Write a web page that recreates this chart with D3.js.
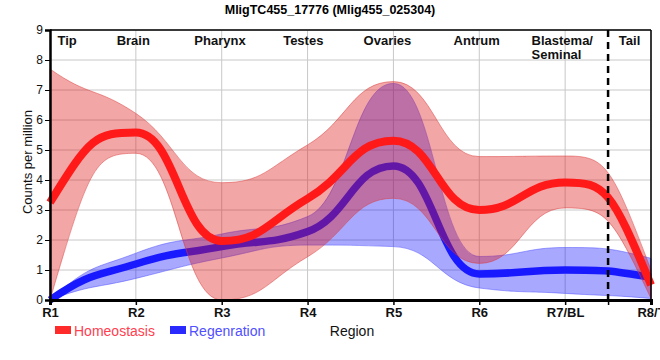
<!DOCTYPE html>
<html>
<head>
<meta charset="utf-8">
<script src="https://cdn.jsdelivr.net/npm/d3@7"></script>
<style>
  html, body { margin: 0; padding: 0; background: #fff; }
  svg { display: block; }
</style>
</head>
<body>
<svg id="chart" width="660" height="360"></svg>
<script>
const title = "MligTC455_17776 (Mlig455_025304)";
const regions = ["R1", "R2", "R3", "R4", "R5", "R6", "R7/BL", "R8/T"];
const yTicks = [0, 1, 2, 3, 4, 5, 6, 7, 8, 9];
const tissueNames = ["Tip", "Brain", "Pharynx", "Testes", "Ovaries", "Antrum", "Blastema/\nSeminal", "Tail"];
const tissuePos = [0.2, 0.97, 1.98, 2.95, 3.93, 4.97, 5.97, 6.75];
const tailBoundary = 6.5;

const homeoMean  = [3.25, 5.58, 1.97, 3.38, 5.31, 3.00, 3.92, 0.50];
const homeoUpper = [7.70, 6.22, 3.91, 5.17, 7.28, 4.78, 4.80, 1.00];
const homeoLower = [0.00, 4.89, 0.00, 1.44, 3.39, 1.22, 3.07, 0.05];
const regenMean  = [0.00, 1.20, 1.78, 2.28, 4.47, 0.87, 1.00, 0.75];
const regenUpper = [0.00, 1.56, 2.20, 2.78, 7.22, 1.45, 1.75, 1.39];
const regenLower = [0.00, 0.72, 1.40, 1.83, 1.78, 0.40, 0.22, 0.05];

(function () {
// Monotone cubic with control points pushed towards the segment middle,
// giving the smooth "plateau" look of the reference curves.
const K = 0.47;
function SoftMono(context) { this._context = context; }
SoftMono.prototype = {
  areaStart() { this._line = 0; },
  areaEnd() { this._line = NaN; },
  lineStart() { this._xs = []; this._ys = []; },
  point(px, py) { this._xs.push(+px); this._ys.push(+py); },
  lineEnd() {
    const xs = this._xs, ys = this._ys, n = xs.length, c = this._context;
    if (n) { this._line ? c.lineTo(xs[0], ys[0]) : c.moveTo(xs[0], ys[0]); }
    if (n > 1) {
      const s = [], t = new Array(n).fill(0);
      for (let i = 0; i < n - 1; i++) s.push((ys[i + 1] - ys[i]) / (xs[i + 1] - xs[i]));
      for (let i = 1; i < n - 1; i++) {
        const h0 = xs[i] - xs[i - 1], h1 = xs[i + 1] - xs[i], s0 = s[i - 1], s1 = s[i];
        const p = (s0 * h1 + s1 * h0) / (h0 + h1);
        t[i] = (Math.sign(s0) + Math.sign(s1)) * Math.min(Math.abs(s0), Math.abs(s1), 0.5 * Math.abs(p)) || 0;
      }
      const endT = (sl, tn) => {
        let v = (4 * sl - tn) / 2;
        if (Math.sign(v) !== Math.sign(sl)) v = 0;
        if (Math.abs(v) > 2 * Math.abs(sl)) v = 2 * sl;
        return v;
      };
      if (n > 2) { t[0] = endT(s[0], t[1]); t[n - 1] = endT(s[n - 2], t[n - 2]); }
      else { t[0] = s[0]; t[1] = s[0]; }
      for (let i = 0; i < n - 1; i++) {
        const h = xs[i + 1] - xs[i];
        c.bezierCurveTo(xs[i] + K * h, ys[i] + K * h * t[i],
                        xs[i + 1] - K * h, ys[i + 1] - K * h * t[i + 1],
                        xs[i + 1], ys[i + 1]);
      }
    }
    if (this._line || (this._line !== 0 && n === 1)) c.closePath();
    this._line = 1 - this._line;
  }
};
const softMono = ctx => new SoftMono(ctx);

const svg = d3.select("#chart");
const pL = 50, pR = 651, pT = 30, pB = 300;
const x = d3.scaleLinear().domain([0, regions.length - 1]).range([pL, pR]);
const y = d3.scaleLinear().domain([0, 9]).range([pB, pT]);

// title
svg.append("text").attr("x", 330).attr("y", 14).attr("text-anchor", "middle")
  .attr("font-family", "Liberation Sans, Arial, sans-serif").attr("font-weight", "bold")
  .attr("font-size", 12.5).text(title);

// grid
const g = svg.append("g");
g.selectAll(".hg").data(yTicks).enter().append("line")
  .attr("x1", pL).attr("x2", pR).attr("y1", d => y(d)).attr("y2", d => y(d))
  .attr("stroke", "#c8c8c8").attr("stroke-width", 1);
g.selectAll(".vg").data(regions).enter().append("line")
  .attr("x1", (d, i) => x(i)).attr("x2", (d, i) => x(i)).attr("y1", pT).attr("y2", pB)
  .attr("stroke", "#c8c8c8").attr("stroke-width", 1);

const idx = regions.map((d, i) => i);
const area = (up, lo) => d3.area().curve(softMono).x(i => x(i)).y0(i => y(lo[i])).y1(i => y(up[i]))(idx);
const line = (m) => d3.line().curve(softMono).x(i => x(i)).y(i => y(m[i]))(idx);

const plot = svg.append("g");
plot.append("path").attr("d", area(regenUpper, regenLower))
  .attr("fill", "rgb(0,0,255)").attr("fill-opacity", 0.34)
  .attr("stroke", "rgb(80,80,255)").attr("stroke-opacity", 0.5).attr("stroke-width", 1);
plot.append("path").attr("d", line(regenMean))
  .attr("fill", "none").attr("stroke", "rgb(25,25,255)").attr("stroke-width", 7.5);
plot.append("path").attr("d", area(homeoUpper, homeoLower))
  .attr("fill", "rgb(220,20,20)").attr("fill-opacity", 0.38)
  .attr("stroke", "rgb(220,60,60)").attr("stroke-opacity", 0.5).attr("stroke-width", 1);
plot.append("path").attr("d", line(homeoMean))
  .attr("fill", "none").attr("stroke", "rgb(255,25,25)").attr("stroke-width", 8);

// dashed tail boundary
svg.append("line").attr("x1", x(tailBoundary)).attr("x2", x(tailBoundary))
  .attr("y1", pT).attr("y2", pB)
  .attr("stroke", "#000").attr("stroke-width", 2.5).attr("stroke-dasharray", "7,5");

// frame
svg.append("line").attr("x1", pL).attr("x2", pR).attr("y1", pT).attr("y2", pT)
  .attr("stroke", "#000").attr("stroke-width", 1.5);
svg.append("line").attr("x1", pR).attr("x2", pR).attr("y1", pT).attr("y2", pB)
  .attr("stroke", "#000").attr("stroke-width", 1.5);

// axes
const yAxis = svg.append("g").attr("transform", `translate(${pL},0)`)
  .call(d3.axisLeft(y).tickValues(yTicks).tickSize(5).tickPadding(2));
yAxis.select(".domain").attr("stroke-width", 2.5);
yAxis.selectAll("text").attr("font-family", "Liberation Sans, Arial, sans-serif").attr("font-size", 12).attr("fill", "#111");

const xTickVals = idx.concat([tailBoundary]);
const xAxis = svg.append("g").attr("transform", `translate(0,${pB})`)
  .call(d3.axisBottom(x).tickValues(xTickVals).tickSize(5).tickPadding(3)
    .tickFormat(d => Number.isInteger(d) ? regions[d] : ""));
xAxis.select(".domain").attr("stroke-width", 3);
xAxis.selectAll(".tick line").attr("stroke-width", 1.5);
xAxis.selectAll("text").attr("font-family", "Liberation Sans Narrow, Arial Narrow, sans-serif")
  .attr("font-weight", "bold").attr("font-size", 13).attr("fill", "#111");

// tissue labels
tissueNames.forEach((name, i) => {
  const parts = name.split("\n");
  const t = svg.append("text").attr("font-family", "Liberation Sans, Arial, sans-serif")
    .attr("font-weight", "bold").attr("font-size", 13).attr("fill", "#111");
  if (parts.length === 1) {
    t.attr("x", x(tissuePos[i])).attr("y", 45).attr("text-anchor", "middle").text(name);
  } else {
    const x0 = x(tissuePos[i]) - 31;
    parts.forEach((p, j) => t.append("tspan").attr("x", x0).attr("y", 45 + j * 14).text(p));
  }
});

// axis titles
svg.append("text").attr("transform", "translate(32,162) rotate(-90)").attr("text-anchor", "middle")
  .attr("font-family", "Liberation Sans, Arial, sans-serif").attr("font-size", 13).attr("fill", "#111")
  .text("Counts per million");
svg.append("text").attr("x", 352).attr("y", 336).attr("text-anchor", "middle")
  .attr("font-family", "Liberation Sans Narrow, Arial Narrow, sans-serif").attr("font-size", 14).attr("fill", "#111")
  .text("Region");

// legend
const legend = [{name: "Homeostasis", fill: "#ff2a2a", text: "#ff4050", x: 55},
                {name: "Regenration", fill: "#2a2aff", text: "#5050ff", x: 170}];
legend.forEach(l => {
  svg.append("rect").attr("x", l.x).attr("y", 326).attr("width", 16).attr("height", 8).attr("fill", l.fill);
  svg.append("text").attr("x", l.x + 19).attr("y", 335.5)
    .attr("font-family", "Liberation Sans Narrow, Arial Narrow, sans-serif").attr("font-size", 14)
    .attr("fill", l.text).text(l.name);
});
})();
</script>
</body>
</html>
